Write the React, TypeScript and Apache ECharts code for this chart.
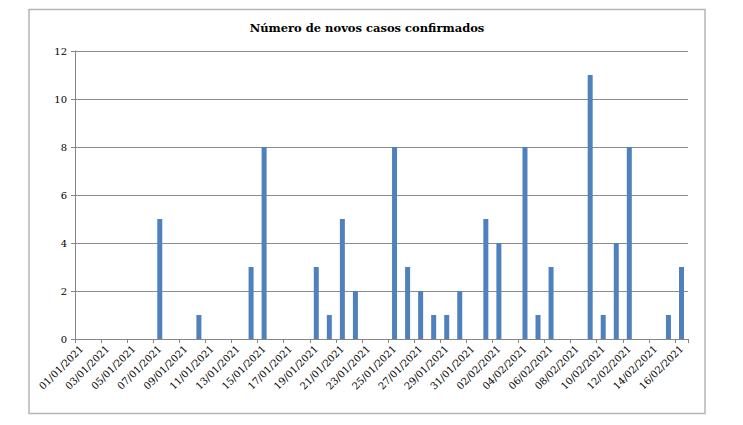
import React, { useEffect, useRef } from "react";
import * as echarts from "echarts";

const titleText = "Número de novos casos confirmados";

const categories = [
  "01/01/2021", "02/01/2021", "03/01/2021", "04/01/2021", "05/01/2021", "06/01/2021",
  "07/01/2021", "08/01/2021", "09/01/2021", "10/01/2021", "11/01/2021", "12/01/2021",
  "13/01/2021", "14/01/2021", "15/01/2021", "16/01/2021", "17/01/2021", "18/01/2021",
  "19/01/2021", "20/01/2021", "21/01/2021", "22/01/2021", "23/01/2021", "24/01/2021",
  "25/01/2021", "26/01/2021", "27/01/2021", "28/01/2021", "29/01/2021", "30/01/2021",
  "31/01/2021", "01/02/2021", "02/02/2021", "03/02/2021", "04/02/2021", "05/02/2021",
  "06/02/2021", "07/02/2021", "08/02/2021", "09/02/2021", "10/02/2021", "11/02/2021",
  "12/02/2021", "13/02/2021", "14/02/2021", "15/02/2021", "16/02/2021",
];

const newCases = [
  0, 0, 0, 0, 0, 0,
  5, 0, 0, 1, 0, 0,
  0, 3, 8, 0, 0, 0,
  3, 1, 5, 2, 0, 0,
  8, 3, 2, 1, 1, 2,
  0, 5, 4, 0, 8, 1,
  3, 0, 0, 11, 1, 4,
  8, 0, 0, 1, 3,
];

const yMin = 0;
const yMax = 12;
const yStep = 2;

const FONT = "DejaVu Serif";

export default function App() {
  const ref = useRef<HTMLDivElement>(null);

  useEffect(() => {
    if (!ref.current) return;
    const chart = echarts.init(ref.current, undefined, { renderer: "svg" });
    chart.setOption({
      animation: false,
      backgroundColor: "#ffffff",
      textStyle: { fontFamily: FONT },
      grid: { left: 75, right: 55, top: 51, bottom: 86, containLabel: false },
      graphic: [
        {
          type: "rect",
          shape: { x: 29, y: 9.5, width: 676, height: 404 },
          style: { fill: "none", stroke: "#b5b5b5", lineWidth: 1.5 },
          silent: true,
        },
        {
          type: "text",
          x: 367,
          y: 28,
          style: {
            text: titleText,
            fontFamily: FONT,
            fontWeight: "bold",
            fontSize: 11.5,
            fill: "#000000",
            textAlign: "center",
            textVerticalAlign: "middle",
          },
          silent: true,
        },
      ],
      xAxis: {
        type: "category",
        data: categories,
        boundaryGap: true,
        axisLine: { show: true, lineStyle: { color: "#868686", width: 1 } },
        axisTick: { show: true, interval: 1, length: 4, lineStyle: { color: "#868686" } },
        axisLabel: {
          interval: 1,
          rotate: 45,
          margin: 8,
          fontSize: 10,
          fontFamily: FONT,
          color: "#000000",
        },
        splitLine: { show: false },
      },
      yAxis: {
        type: "value",
        min: yMin,
        max: yMax,
        interval: yStep,
        axisLine: { show: true, lineStyle: { color: "#868686", width: 1 } },
        axisTick: { show: true, length: 4, lineStyle: { color: "#868686" } },
        axisLabel: { fontSize: 10, fontFamily: FONT, color: "#000000", margin: 8 },
        splitLine: { show: true, lineStyle: { color: "#8c8c8c", width: 1 } },
      },
      series: [
        {
          type: "bar",
          data: newCases,
          barWidth: 5,
          itemStyle: { color: "#4f81bd" },
        },
      ],
    });
    return () => chart.dispose();
  }, []);

  return (
    <div
      ref={ref}
      style={{ position: "fixed", left: 0, top: 0, width: 743, height: 425 }}
    />
  );
}
